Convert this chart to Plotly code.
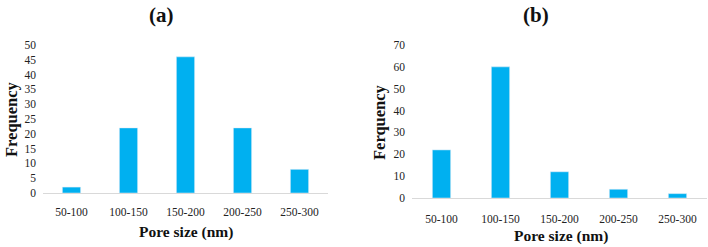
import plotly.graph_objects as go

categories = ["50-100", "100-150", "150-200", "200-250", "250-300"]
freq_a = [2, 22, 46, 22, 8]
freq_b = [22, 60, 12, 4, 2]
yticks_a = list(range(0, 55, 5))
yticks_b = list(range(0, 80, 10))

W, H = 708, 247
BAR = "#00B0F0"
FONT = "Liberation Serif, Times New Roman, serif"

def px(x):
    return x / W

def py(y):
    return (H - y) / H

fig = go.Figure()
fig.add_trace(go.Bar(x=categories, y=freq_a, marker_color=BAR, width=0.32, xaxis="x", yaxis="y"))
fig.add_trace(go.Bar(x=categories, y=freq_b, marker_color=BAR, width=0.31, xaxis="x2", yaxis="y2"))

axis_common = dict(showgrid=False, zeroline=False, automargin=False,
                   tickfont=dict(family=FONT, size=11.5, color="#222"))

fig.update_layout(
    width=W, height=H, margin=dict(l=0, r=0, t=0, b=0, autoexpand=False),
    paper_bgcolor="white", plot_bgcolor="white", showlegend=False,
    xaxis=dict(domain=[px(43), px(328)], anchor="y", showline=True, linecolor="#D9D9D9", linewidth=1,
               ticks="", ticklabelstandoff=8, **axis_common),
    yaxis=dict(domain=[py(193), py(45)], anchor="x", range=[0, 50], tickvals=yticks_a,
               showline=False, ticks="", ticklabelstandoff=6, **axis_common),
    xaxis2=dict(domain=[px(412), px(707)], anchor="y2", showline=True, linecolor="#D9D9D9", linewidth=1,
                ticks="", ticklabelstandoff=10, **axis_common),
    yaxis2=dict(domain=[py(198), py(45)], anchor="x2", range=[0, 70], tickvals=yticks_b,
                showline=False, ticks="", ticklabelstandoff=6, **axis_common),
)

ann = []
def A(text, x, y, size, angle=0):
    ann.append(dict(text=text, x=px(x), y=py(y), xref="paper", yref="paper", showarrow=False,
                    xanchor="center", yanchor="middle", textangle=angle, borderpad=0,
                    font=dict(family=FONT, size=size, color="#111")))

A("<b>(a)</b>", 161, 15, 21)
A("<b>(b)</b>", 536, 15, 21)
A("<b>Frequency</b>", 11, 119, 16.5, -90)
A("<b>Ferquency</b>", 379, 122, 16.5, -90)
A("<b>Pore size (nm)</b>", 186, 232, 15.5)
A("<b>Pore size (nm)</b>", 561, 236, 15.5)
fig.update_layout(annotations=ann)

fig.write_html("out.html", config={"displayModeBar": False},
               post_script="document.body.style.margin='0';document.body.style.overflow='hidden';")
